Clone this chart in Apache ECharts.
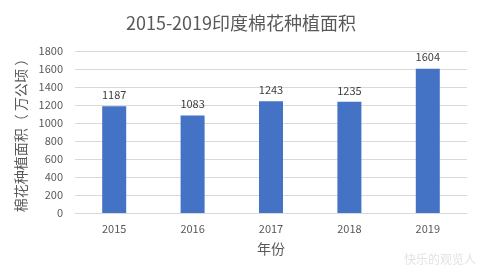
<!DOCTYPE html>
<html><head><meta charset="utf-8">
<script src="https://cdn.jsdelivr.net/npm/echarts@6/dist/echarts.min.js"></script>
<style>html,body{margin:0;padding:0;background:#fff}#c{width:482px;height:275px}</style>
</head><body><div id="c"></div>
<script>
const categories = ['2015','2016','2017','2018','2019'];
const values = [1187, 1083, 1243, 1235, 1604];
const yTicks = [0,200,400,600,800,1000,1200,1400,1600,1800];
const titleText = '2015-2019印度棉花种植面积';
const font = '"Microsoft YaHei","Noto Sans CJK SC","DejaVu Sans",sans-serif';
const chart = echarts.init(document.getElementById('c'));
chart.setOption({
  animation:false,
  backgroundColor:'#fff',
  title:{text:titleText,left:'center',top:9,textStyle:{fontSize:18,fontWeight:'normal',color:'#595959',fontFamily:font}},
  grid:{left:75,right:15,top:51,bottom:62},
  xAxis:{type:'category',data:categories,
    name:'年份',nameLocation:'middle',nameGap:29,nameTextStyle:{fontSize:14,color:'#595959',fontFamily:font},
    axisLine:{lineStyle:{color:'#d9d9d9'}},axisTick:{show:false},
    axisLabel:{fontSize:11,color:'#595959',margin:10,fontFamily:font}},
  yAxis:{type:'value',min:0,max:1800,interval:200,
    name:'棉花种植面积（ 万公顷 ）',nameLocation:'middle',nameGap:36,nameTextStyle:{fontSize:14,color:'#595959',fontFamily:font},
    axisLine:{show:false},axisTick:{show:false},
    splitLine:{lineStyle:{color:'#d9d9d9'}},
    axisLabel:{fontSize:11,color:'#595959',margin:12,fontFamily:font,formatter:v=>String(v)}},
  series:[{type:'bar',data:values,barWidth:24,itemStyle:{color:'#4472c4'},
    label:{show:true,position:'top',fontSize:11,color:'#404040',distance:6,fontFamily:font}}],
  graphic:[{type:'text',left:404,top:253,style:{text:'快乐的观览人',fontSize:12,fill:'#e3e3e3',fontFamily:font}}]
});
</script></body></html>
